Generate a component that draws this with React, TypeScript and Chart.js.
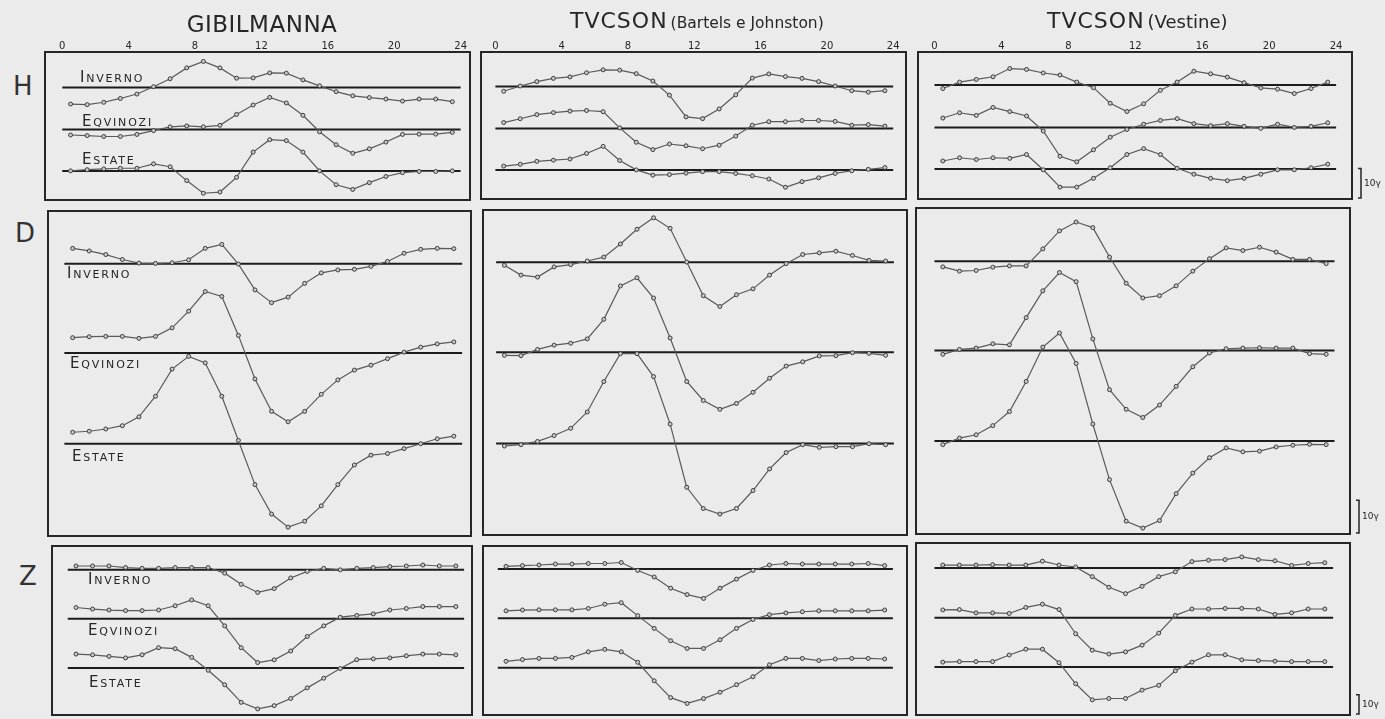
import React, { useEffect, useRef } from "react";
import { Chart, registerables } from "chart.js";
Chart.register(...registerables);

// ---------- data ----------
const HOURS = [0.5, 1.5, 2.5, 3.5, 4.5, 5.5, 6.5, 7.5, 8.5, 9.5, 10.5, 11.5, 12.5, 13.5, 14.5, 15.5, 16.5, 17.5, 18.5, 19.5, 20.5, 21.5, 22.5, 23.5];
const HOUR_TICKS = [0, 4, 8, 12, 16, 20, 24];
const COMPONENTS = ["H", "D", "Z"];
const SEASONS = ["Inverno", "Eqvinozi", "Estate"];
const STATIONS = ["GIBILMANNA", "TVCSON", "TVCSON"];
const SOURCES = ["", "(Bartels e Johnston)", "(Vestine)"];
const SCALE_LABEL = "10γ";
const SCALE_GAMMA = 10;

// deviations in gamma from each season's zero line
const GIB_H_INV = [-5.6, -5.8, -5.0, -3.7, -2.2, 0.3, 3.0, 6.7, 8.9, 6.7, 3.2, 3.3, 5.0, 4.9, 2.6, 0.6, -1.4, -2.8, -3.4, -3.9, -4.6, -3.9, -3.9, -4.8];
const GIB_H_EQU = [-1.9, -2.1, -2.4, -2.4, -1.7, -0.4, 0.9, 1.2, 0.9, 1.4, 5.1, 8.3, 10.9, 9.0, 4.8, -0.8, -5.2, -8.1, -6.6, -4.3, -1.7, -1.6, -1.6, -1.0];
const GIB_H_EST = [0, 0.4, 0.7, 0.9, 0.9, 2.4, 1.4, -3.3, -7.6, -7.2, -2.2, 6.4, 10.6, 10.3, 6.4, 0, -4.7, -6.3, -4.0, -1.9, -0.6, -0.2, -0.2, 0];

const BJ_H_INV = [-1.6, 0.2, 1.7, 2.8, 3.3, 4.7, 5.7, 5.6, 4.4, 1.9, -2.9, -10.3, -10.9, -7.6, -2.8, 2.9, 4.3, 3.4, 2.8, 1.7, 0.2, -1.4, -1.9, -1.4];
const BJ_H_EQU = [2.0, 3.3, 4.7, 5.4, 5.9, 6.1, 5.7, 0.2, -4.7, -7.2, -5.3, -5.9, -6.9, -5.7, -2.6, 1.1, 2.3, 2.3, 2.7, 2.7, 2.4, 1.1, 1.3, 0.8];
const BJ_H_EST = [1.3, 1.9, 2.9, 3.3, 3.7, 5.6, 8.0, 3.2, 0, -1.8, -1.6, -1.1, -0.6, -0.6, -1.2, -2.0, -3.1, -5.9, -4.0, -2.7, -1.2, -0.3, 0.2, 0.8];

const VE_H_INV = [-1.2, 1.0, 1.9, 2.8, 5.6, 5.3, 4.1, 3.4, 1.0, -0.9, -6.2, -9.0, -6.4, -1.8, 1.0, 4.7, 3.8, 2.7, 0.8, -1.0, -1.4, -2.9, -1.2, 1.0];
const VE_H_EQU = [3.2, 5.0, 4.1, 6.8, 5.4, 3.9, -1.2, -9.8, -11.7, -7.6, -3.3, -0.7, 1.1, 2.4, 3.0, 1.3, 0.6, 1.3, 0.4, -0.3, 1.1, 0, 0.4, 1.6];
const VE_H_EST = [2.7, 3.8, 3.2, 3.8, 3.6, 4.9, -0.3, -6.2, -6.2, -3.2, 0.4, 4.9, 6.9, 4.9, 0.2, -1.8, -3.2, -4.0, -3.2, -1.8, -0.3, -0.3, 0.4, 1.6];

const GIB_D_INV = [4.7, 3.9, 2.8, 1.3, 0.2, 0.1, 0.3, 1.2, 4.7, 5.9, -0.1, -8.0, -11.9, -10.2, -6.0, -2.8, -1.9, -1.7, -0.8, 0.7, 3.2, 4.4, 4.7, 4.6];
const GIB_D_EQU = [4.7, 5.0, 5.1, 5.1, 4.5, 5.1, 7.7, 12.8, 18.8, 17.3, 5.4, -7.9, -17.8, -21.0, -17.8, -12.6, -8.2, -5.2, -3.7, -1.7, 0.3, 1.8, 2.8, 3.4];
const GIB_D_EST = [3.5, 3.8, 4.5, 5.5, 8.2, 14.5, 22.8, 26.7, 24.7, 14.5, 1.0, -12.5, -21.5, -25.5, -23.7, -19.0, -12.5, -6.5, -3.5, -3.0, -1.5, 0, 1.5, 2.3];

const BJ_D_INV = [-0.9, -3.9, -4.5, -1.4, -0.7, 0.4, 1.6, 5.6, 10.1, 13.6, 10.4, 0.1, -10.2, -13.5, -9.9, -8.1, -3.9, -0.4, 2.4, 2.9, 3.4, 2.1, 0.6, 0.4];
const BJ_D_EQU = [-0.9, -1.0, 0.9, 2.2, 2.8, 4.1, 10.1, 20.3, 22.8, 16.6, 4.4, -8.9, -14.7, -17.4, -15.6, -12.2, -7.9, -4.2, -2.9, -1.1, -1.0, -0.1, -0.3, -0.9];
const BJ_D_EST = [-0.8, -0.4, 0.6, 2.4, 4.6, 9.6, 18.9, 27.4, 27.4, 20.4, 5.9, -13.4, -19.9, -21.6, -19.9, -14.4, -7.8, -2.8, -0.4, -1.2, -1.0, -1.0, -0.1, -0.4];

const VE_D_INV = [-1.7, -3.0, -2.8, -1.8, -1.4, -1.4, 3.8, 9.3, 12.0, 10.3, 1.3, -6.7, -11.2, -10.5, -7.5, -3.0, 0.8, 4.1, 3.3, 4.3, 2.8, 0.6, 0.6, -0.7];
const VE_D_EQU = [-1.2, 0.3, 0.7, 2.0, 1.7, 10.0, 18.2, 23.8, 21.0, 3.5, -12.0, -18.0, -20.5, -16.7, -11.0, -5.0, -0.8, 0.5, 0.7, 0.8, 0.7, 0.7, -1.0, -1.2];
const VE_D_EST = [-1.1, 0.9, 1.9, 4.7, 9.0, 18.2, 28.7, 33.0, 23.7, 5.2, -11.8, -24.5, -26.6, -24.3, -16.1, -9.8, -5.1, -2.1, -3.3, -3.1, -1.8, -1.3, -1.0, -1.1];

const GIB_Z_INV = [2.0, 2.0, 2.0, 1.2, 0.8, 0.8, 1.2, 1.2, 1.2, -1.7, -7.5, -11.7, -9.7, -4.2, -0.8, 0.8, 0, 0.8, 1.2, 1.7, 2.0, 2.5, 2.0, 2.0];
const GIB_Z_EQU = [5.8, 5.0, 4.5, 4.2, 4.2, 4.5, 6.7, 9.7, 6.7, -3.7, -15.0, -22.7, -21.3, -16.7, -9.2, -3.7, 0.8, 1.7, 2.5, 4.5, 5.3, 6.3, 6.3, 6.3];
const GIB_Z_EST = [7.2, 6.8, 6.0, 5.2, 6.8, 10.5, 10.0, 5.5, -1.2, -8.7, -17.8, -21.2, -19.5, -15.8, -10.3, -5.3, -0.3, 4.3, 4.7, 5.2, 6.3, 7.2, 7.2, 6.8];

const BJ_Z_INV = [1.3, 1.7, 2.0, 2.5, 2.5, 2.8, 2.8, 3.3, -0.8, -4.2, -10.0, -13.3, -15.3, -10.0, -5.3, -0.8, 2.0, 2.8, 2.5, 2.5, 2.5, 2.5, 2.8, 1.7];
const BJ_Z_EQU = [3.8, 4.2, 4.3, 4.3, 4.3, 5.0, 7.2, 8.0, 1.3, -5.3, -11.7, -15.7, -15.7, -11.2, -5.3, -0.7, 1.8, 2.7, 3.3, 3.8, 3.8, 3.8, 3.8, 4.2];
const BJ_Z_EST = [3.3, 4.2, 4.8, 4.8, 5.3, 8.2, 9.5, 8.2, 2.8, -6.8, -15.5, -18.5, -16.0, -12.7, -8.8, -4.7, 1.5, 4.8, 4.8, 3.7, 4.5, 4.8, 4.8, 4.5];

const VE_Z_INV = [1.5, 1.5, 1.5, 1.7, 1.5, 1.5, 3.5, 1.5, 0.5, -4.5, -10.0, -13.3, -9.5, -4.5, -2.0, 3.3, 4.0, 4.3, 5.7, 4.3, 3.7, 1.3, 2.3, 2.7];
const VE_Z_EQU = [4.0, 4.2, 2.5, 2.5, 2.2, 5.3, 7.0, 4.2, -8.3, -16.8, -18.8, -17.7, -14.2, -8.0, 1.2, 4.5, 4.5, 4.8, 4.8, 4.5, 1.7, 2.5, 4.5, 4.5];
const VE_Z_EST = [2.5, 2.8, 2.8, 2.8, 6.2, 9.2, 9.2, 2.2, -8.7, -17.0, -16.3, -16.3, -12.0, -9.5, -2.0, 2.5, 6.3, 6.3, 3.7, 3.3, 3.0, 2.8, 2.8, 2.8];

const SERIES = [
  [[GIB_H_INV, GIB_H_EQU, GIB_H_EST], [BJ_H_INV, BJ_H_EQU, BJ_H_EST], [VE_H_INV, VE_H_EQU, VE_H_EST]],
  [[GIB_D_INV, GIB_D_EQU, GIB_D_EST], [BJ_D_INV, BJ_D_EQU, BJ_D_EST], [VE_D_INV, VE_D_EQU, VE_D_EST]],
  [[GIB_Z_INV, GIB_Z_EQU, GIB_Z_EST], [BJ_Z_INV, BJ_Z_EQU, BJ_Z_EST], [VE_Z_INV, VE_Z_EQU, VE_Z_EST]],
];

// ---------- layout ----------
const PAGE_W = 1385;
const PAGE_H = 719;
const BG = "#ebebeb";
const INK = "#262626";
const PX_PER_GAMMA = [3, 10 / 3, 2];

type Box = { l: number; r: number; t: number; b: number; h0: number; h24: number; base: number[] };
const BOXES: Box[][] = [
  [
    { l: 42, r: 473, t: 52, b: 203, h0: 59.5, h24: 463.5, base: [88.3, 131, 173.3] },
    { l: 478, r: 909, t: 52, b: 202, h0: 492.6, h24: 896, base: [87.3, 130, 172.3] },
    { l: 915, r: 1352, t: 52, b: 202, h0: 931.6, h24: 1336, base: [85.7, 129, 171.3] },
  ],
  [
    { l: 45, r: 474, t: 208, b: 539, h0: 61.6, h24: 465, base: [261.7, 352.7, 445] },
    { l: 480, r: 910, t: 207, b: 538, h0: 493.3, h24: 896.7, base: [260.3, 352, 444.7] },
    { l: 913, r: 1350, t: 205, b: 537, h0: 931.6, h24: 1334.4, base: [259.3, 350, 442.3] },
  ],
  [
    { l: 49, r: 475, t: 543, b: 718, h0: 65, h24: 467, base: [567.7, 618.3, 669.3] },
    { l: 480, r: 910, t: 543, b: 718, h0: 495, h24: 895.7, base: [566.7, 617.7, 669] },
    { l: 913, r: 1350, t: 540, b: 718, h0: 931.6, h24: 1333, base: [565.8, 617.3, 668.3] },
  ],
];

// [left, baseline] of season labels (first column only)
const LABEL_POS = [
  [[80, 83], [82, 127], [82, 165]],
  [[67, 279], [70, 369], [72, 462]],
  [[88, 585], [88, 636], [89, 688]],
];
// [left, baseline] of component letters
const ROW_LETTER_POS = [[13, 95], [15, 242], [19, 585]];

function Panel({ row, col }: { row: number; col: number }) {
  const ref = useRef<HTMLCanvasElement | null>(null);
  const box = BOXES[row][col];
  const padL = 2;
  const padB = 2;
  const padT = row === 0 ? 24 : 2;
  const padR = col === 2 ? PAGE_W - box.r : 2;
  const width = Math.round(box.r - box.l + padL + padR);
  const height = Math.round(box.b - box.t + padT + padB);

  useEffect(() => {
    const ppg = PX_PER_GAMMA[row];
    const pph = (box.h24 - box.h0) / 24;
    const xMin = -(box.h0 - box.l) / pph;
    const xMax = 24 + (box.r - box.h24) / pph;
    const yMax = (box.base[0] - box.t) / ppg;
    const yMin = -(box.b - box.base[0]) / ppg;
    const offsets = box.base.map((b) => -(b - box.base[0]) / ppg);

    const curves = SERIES[row][col].map((vals, k) => ({
      label: SEASONS[k],
      data: HOURS.map((h, i) => ({ x: h, y: vals[i] + offsets[k] })),
      borderColor: "#5a5a5a",
      borderWidth: 1.2,
      pointRadius: 2,
      pointBorderWidth: 1,
      pointBackgroundColor: "#c9c9c9",
      pointBorderColor: "#3c3c3c",
      tension: 0,
      order: 0,
    }));
    const baselines = offsets.map((o, k) => ({
      label: SEASONS[k] + " 0",
      data: [{ x: 0, y: o }, { x: 24, y: o }],
      borderColor: "#1c1c1c",
      borderWidth: 2,
      pointRadius: 0,
      tension: 0,
      order: 1,
    }));

    const framePlugin = {
      id: "frame",
      afterDraw(chart: any) {
        const { ctx, chartArea: ca, scales } = chart;
        ctx.save();
        ctx.strokeStyle = INK;
        ctx.lineWidth = 2;
        ctx.strokeRect(ca.left, ca.top, ca.right - ca.left, ca.bottom - ca.top);
        if (row === 0) {
          ctx.fillStyle = INK;
          ctx.font = '10px "DejaVu Sans", sans-serif';
          ctx.textAlign = "center";
          ctx.textBaseline = "middle";
          HOUR_TICKS.forEach((t) => {
            ctx.fillText(String(t), scales.x.getPixelForValue(t), ca.top - 6);
          });
        }
        if (col === 2) {
          const x = ca.right + 9;
          const yb = scales.y.getPixelForValue(yMin) - 1;
          const yt = scales.y.getPixelForValue(yMin + SCALE_GAMMA) - 1;
          ctx.lineWidth = 1.5;
          ctx.beginPath();
          ctx.moveTo(x - 3, yt);
          ctx.lineTo(x, yt);
          ctx.lineTo(x, yb);
          ctx.lineTo(x - 3, yb);
          ctx.stroke();
          ctx.fillStyle = INK;
          ctx.font = '9px "DejaVu Sans", sans-serif';
          ctx.textAlign = "left";
          ctx.textBaseline = "middle";
          ctx.fillText(SCALE_LABEL, x + 3, (yt + yb) / 2);
        }
        ctx.restore();
      },
    };

    const chart = new Chart(ref.current as HTMLCanvasElement, {
      type: "line",
      data: { datasets: [...curves, ...baselines] as any },
      options: {
        animation: false,
        responsive: false,
        devicePixelRatio: 1,
        events: [],
        layout: { padding: { left: padL, right: padR, top: padT, bottom: padB } },
        scales: {
          x: { type: "linear", min: xMin, max: xMax, display: false },
          y: { type: "linear", min: yMin, max: yMax, display: false },
        },
        plugins: { legend: { display: false }, tooltip: { enabled: false } },
      },
      plugins: [framePlugin],
    });
    return () => chart.destroy();
  }, []);

  return (
    <canvas
      ref={ref}
      width={width}
      height={height}
      style={{ position: "absolute", left: box.l - padL, top: box.t - padT, width, height }}
    />
  );
}

export default function App() {
  const panels: JSX.Element[] = [];
  for (let r = 0; r < 3; r++) for (let c = 0; c < 3; c++) panels.push(<Panel key={`${r}-${c}`} row={r} col={c} />);

  const textBase: React.CSSProperties = {
    position: "absolute",
    lineHeight: 1,
    whiteSpace: "nowrap",
    color: INK,
    fontFamily: '"DejaVu Sans", sans-serif',
  };

  return (
    <div style={{ position: "fixed", left: 0, top: 0, width: PAGE_W, height: PAGE_H, background: BG, overflow: "hidden" }}>
      {panels}
      {/* titles */}
      <div style={{ ...textBase, fontSize: 23, left: 262, top: 32 - 0.846 * 23, transform: "translateX(-50%)", letterSpacing: 0.5 }}>
        {STATIONS[0]}
      </div>
      <div style={{ ...textBase, fontSize: 22, left: 570, top: 29 - 0.846 * 22, letterSpacing: 1 }}>
        {STATIONS[1]}
        <span style={{ fontSize: 15.5, letterSpacing: 0, marginLeft: 3 }}>{SOURCES[1]}</span>
      </div>
      <div style={{ ...textBase, fontSize: 22, left: 1047, top: 29 - 0.846 * 22, letterSpacing: 1 }}>
        {STATIONS[2]}
        <span style={{ fontSize: 18, letterSpacing: 0, marginLeft: 3 }}>{SOURCES[2]}</span>
      </div>
      {/* component letters */}
      {COMPONENTS.map((c, i) => (
        <div key={c} style={{ ...textBase, fontSize: 26, fontWeight: 400, color: "#333", left: ROW_LETTER_POS[i][0], top: ROW_LETTER_POS[i][1] - 0.846 * 26 }}>
          {c}
        </div>
      ))}
      {/* season labels */}
      {LABEL_POS.map((row, r) =>
        row.map((p, k) => (
          <div
            key={`${r}-${k}`}
            style={{ ...textBase, fontSize: 15, fontVariant: "small-caps", letterSpacing: 1.8, left: p[0], top: p[1] - 0.846 * 15 }}
          >
            {SEASONS[k]}
          </div>
        ))
      )}
    </div>
  );
}
